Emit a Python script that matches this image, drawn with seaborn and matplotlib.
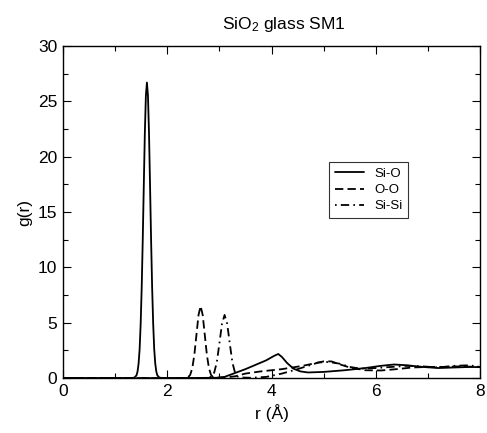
import matplotlib
matplotlib.use("Agg")
import matplotlib.pyplot as plt
import seaborn as sns
import pandas as pd
from matplotlib.ticker import MultipleLocator

# ---- data ----
r_sio = [0.0, 1.30, 1.37, 1.41, 1.43, 1.45, 1.47, 1.49, 1.51, 1.53, 1.55, 1.57, 1.59, 1.61,
         1.63, 1.65, 1.67, 1.69, 1.71, 1.73, 1.75, 1.77, 1.79, 1.81, 1.85, 1.92, 2.5, 2.95,
         3.1, 3.3, 3.5, 3.7, 3.9, 4.05, 4.13, 4.2, 4.3, 4.42, 4.55, 4.7, 5.0, 5.4, 5.8, 6.1,
         6.35, 6.6, 6.9, 7.2, 7.5, 7.8, 8.0]
g_sio = [0.0, 0.0, 0.03, 0.24, 0.58, 1.3, 2.6, 4.9, 8.2, 12.5, 17.4, 22.1, 25.5, 26.7,
         25.5, 22.1, 17.4, 12.5, 8.2, 4.9, 2.6, 1.3, 0.58, 0.24, 0.03, 0.0, 0.0, 0.02,
         0.1, 0.45, 0.8, 1.2, 1.6, 2.0, 2.17, 1.9, 1.35, 0.85, 0.6, 0.5, 0.55, 0.7, 0.9, 1.1,
         1.22, 1.15, 1.0, 0.9, 0.95, 1.0, 0.98]

r_oo = [0.0, 2.30, 2.40, 2.44, 2.48, 2.52, 2.56, 2.60, 2.64, 2.68, 2.72, 2.76, 2.80, 2.84,
        2.88, 2.95, 3.1, 3.3, 3.5, 3.8, 4.0, 4.2, 4.4, 4.6, 4.8, 5.0, 5.15, 5.3, 5.5, 5.8,
        6.1, 6.4, 6.7, 7.0, 7.3, 7.6, 8.0]
g_oo = [0.0, 0.0, 0.07, 0.28, 0.88, 2.1, 3.9, 5.7, 6.5, 5.7, 3.9, 2.1, 0.88, 0.28,
        0.07, 0.02, 0.05, 0.15, 0.4, 0.6, 0.7, 0.8, 0.95, 1.1, 1.3, 1.5, 1.5, 1.25, 0.95, 0.7,
        0.68, 0.8, 0.95, 1.0, 1.0, 1.05, 1.0]

r_sisi = [0.0, 2.70, 2.80, 2.85, 2.90, 2.95, 3.00, 3.05, 3.10, 3.15, 3.20, 3.25, 3.30, 3.35,
          3.40, 3.6, 3.9, 4.2, 4.5, 4.7, 4.9, 5.1, 5.3, 5.5, 5.7, 6.0, 6.3, 6.6, 6.9, 7.2,
          7.5, 7.8, 8.0]
g_sisi = [0.0, 0.0, 0.06, 0.12, 0.48, 1.4, 3.1, 4.9, 5.7, 4.9, 3.1, 1.4, 0.48, 0.12,
          0.05, 0.02, 0.1, 0.4, 0.8, 1.1, 1.4, 1.45, 1.3, 1.0, 0.85, 0.9, 1.0, 1.1, 1.05, 0.95,
          1.1, 1.15, 1.0]

labels = ["Si-O", "O-O", "Si-Si"]
title = "SiO$_2$ glass SM1"
xlabel = "r (Å)"
ylabel = "g(r)"

df = pd.concat([
    pd.DataFrame({"r": r_sio, "g": g_sio, "pair": labels[0]}),
    pd.DataFrame({"r": r_oo, "g": g_oo, "pair": labels[1]}),
    pd.DataFrame({"r": r_sisi, "g": g_sisi, "pair": labels[2]}),
], ignore_index=True)

sns.set_style("ticks")
plt.rcParams["font.family"] = ["Liberation Sans", "DejaVu Sans"]
plt.rcParams["mathtext.fontset"] = "custom"
plt.rcParams["mathtext.rm"] = "Liberation Sans"
plt.rcParams["mathtext.default"] = "regular"
plt.rcParams["lines.scale_dashes"] = False
plt.rcParams["text.color"] = "black"
plt.rcParams["axes.labelcolor"] = "black"
plt.rcParams["xtick.color"] = "black"
plt.rcParams["ytick.color"] = "black"

fig = plt.figure(figsize=(4.87, 4.33), dpi=100)
ax = fig.add_axes([63/487, 55/433, 417/487, 332/433])

styles = {"Si-O": "-", "O-O": (0, (6, 3)), "Si-Si": (0, (1.2, 3, 6, 3))}
for lab in labels:
    sub = df[df["pair"] == lab]
    sns.lineplot(data=sub, x="r", y="g", ax=ax, color="black", lw=1.3,
                 linestyle=styles[lab], sort=False, estimator=None, label=lab)

ax.set_xlim(0, 8)
ax.set_ylim(0, 30)
ax.xaxis.set_major_locator(MultipleLocator(2))
ax.xaxis.set_minor_locator(MultipleLocator(1))
ax.yaxis.set_major_locator(MultipleLocator(5))
ax.yaxis.set_minor_locator(MultipleLocator(2.5))
ax.tick_params(which="both", direction="in", top=True, right=True, width=0.8,
               labelsize=12.5, color="black", labelcolor="black")
ax.tick_params(which="major", length=6, pad=4)
ax.tick_params(which="minor", length=3.5)
for s in ax.spines.values():
    s.set_linewidth(1.0)
    s.set_color("black")

ax.set_xlabel(xlabel, fontsize=12.5, labelpad=4, color="black")
ax.set_ylabel(ylabel, fontsize=12.5, labelpad=4, color="black")
ax.set_title(title, fontsize=12.5, pad=12, x=0.53, color="black")

leg = ax.legend(loc="center", bbox_to_anchor=(0.733, 0.566), fontsize=9.5,
                frameon=True, fancybox=False, edgecolor="black", handlelength=2.2,
                borderpad=0.4, labelspacing=0.3)
leg.get_frame().set_linewidth(0.8)
for t in leg.get_texts():
    t.set_color("black")

fig.savefig("out.png", dpi=100)
